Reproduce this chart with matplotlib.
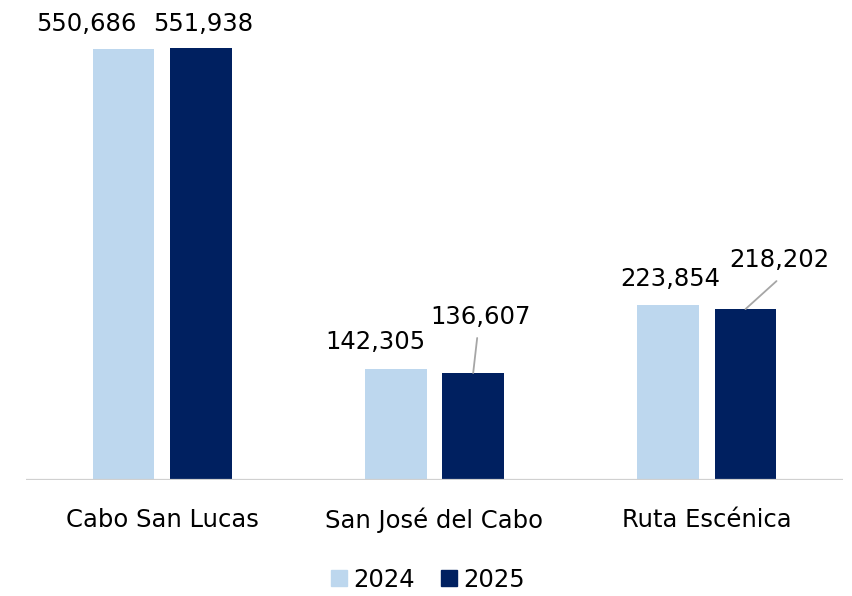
import numpy as np
import matplotlib
matplotlib.use('Agg')
import matplotlib.pyplot as plt
from matplotlib.lines import Line2D

matplotlib.rcParams.update({
    'font.family': 'DejaVu Sans',
    'font.size': 17.5,
})

CATEGORIES = ['Cabo San Lucas', 'San José del Cabo', 'Ruta Escénica']
YEARS = ['2024', '2025']
VALUES_2024 = [550686, 142305, 223854]
VALUES_2025 = [551938, 136607, 218202]

COLORS = {'2024': '#BDD7EE', '2025': '#002060'}

# label nudges in pixels (dx, dy) from the bar top, and leader-line ends
LABEL_OFFSETS = {
    '2024': [(-37, 18), (-20, 20), (2.5, 19)],
    '2025': [(2.5, 17), (7.5, 49), (34, 42)],
}
LEADERS = {('2025', 1): (4, 35), ('2025', 2): (31, 28)}

BAR_W = 0.227
SHIFT = 0.142

fig = plt.figure(figsize=(8.53, 5.96), dpi=100)
ax = fig.add_axes([26 / 853, 116 / 596, 817 / 853, 470 / 596])

x = np.arange(len(CATEGORIES))
series = {'2024': VALUES_2024, '2025': VALUES_2025}
for k, yr in enumerate(YEARS):
    xs = x + (-SHIFT if k == 0 else SHIFT)
    ax.bar(xs, series[yr], width=BAR_W, color=COLORS[yr], zorder=2)
    for i, (xi, v) in enumerate(zip(xs, series[yr])):
        dx, dy = LABEL_OFFSETS[yr][i]
        ax.annotate(f'{v:,}', xy=(xi, v), xytext=(dx, dy),
                    textcoords='offset pixels', ha='center', va='baseline',
                    color='black', fontsize=17.5)
        if (yr, i) in LEADERS:
            lx, ly = LEADERS[(yr, i)]
            ax.annotate('', xy=(xi, v), xytext=(lx, ly),
                        textcoords='offset pixels',
                        arrowprops=dict(arrowstyle='-', color='#A6A6A6',
                                        lw=1.3, shrinkA=0, shrinkB=0))

ax.axhline(0, color='#D0D0D0', lw=1.6, zorder=3)
ax.set_xlim(-0.5, 2.5)
ax.set_ylim(0, 600000)
ax.set_xticks(x)
ax.set_xticklabels(CATEGORIES)
ax.tick_params(axis='x', length=0, pad=20)
ax.set_yticks([])
for s in ax.spines.values():
    s.set_visible(False)

handles = [Line2D([], [], marker='s', linestyle='none', markersize=11,
                  markerfacecolor=COLORS[yr], markeredgecolor=COLORS[yr])
           for yr in YEARS]
fig.legend(handles, YEARS, loc='center', bbox_to_anchor=(426 / 853, 1 - 580 / 596),
           ncol=2, frameon=False, handletextpad=0.1, columnspacing=0.9,
           handlelength=1.0, fontsize=17.5)

fig.savefig('out.png', dpi=100)
